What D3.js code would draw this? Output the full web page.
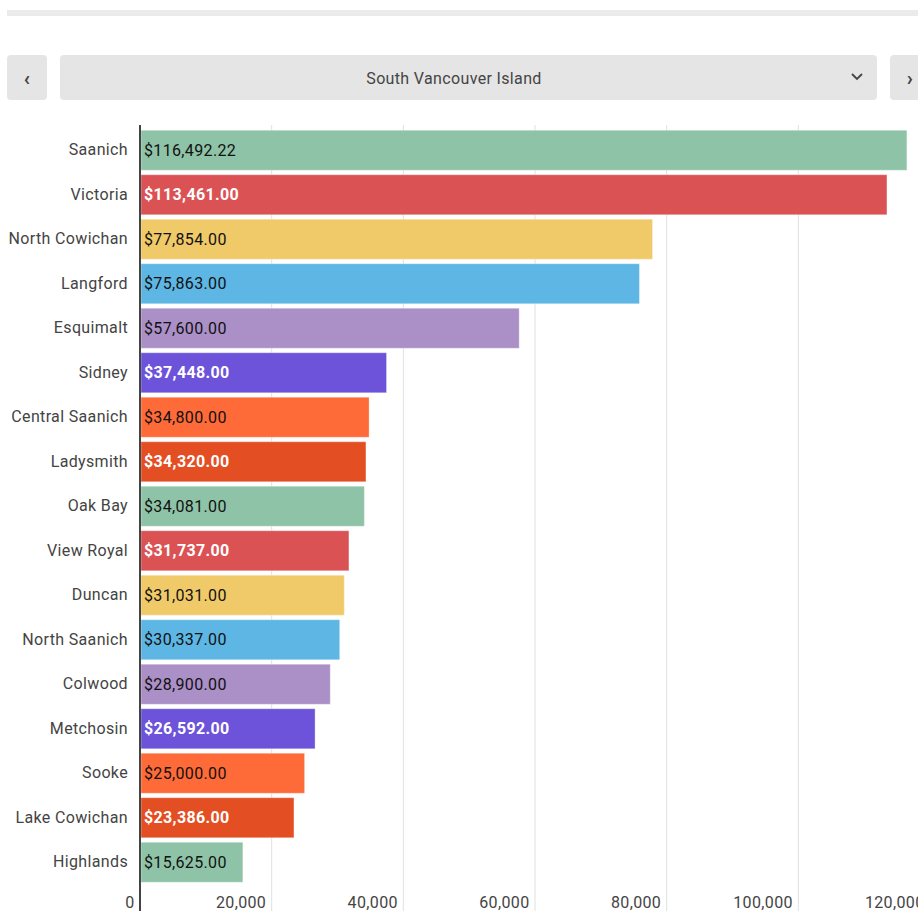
<!DOCTYPE html>
<html>
<head>
<meta charset="utf-8">
<script src="https://cdn.jsdelivr.net/npm/d3@7"></script>
<style>
  body { margin: 0; background: #fff; font-family: Roboto, "Noto Sans", sans-serif; }
  svg { display: block; }
  text { letter-spacing: 0.35px; }
</style>
</head>
<body>
<svg width="918" height="911"></svg>
<script>
// Municipios y valores
const municipios = ["Saanich", "Victoria", "North Cowichan", "Langford", "Esquimalt", "Sidney",
  "Central Saanich", "Ladysmith", "Oak Bay", "View Royal", "Duncan", "North Saanich",
  "Colwood", "Metchosin", "Sooke", "Lake Cowichan", "Highlands"];
const valores = [116492.22, 113461, 77854, 75863, 57600, 37448, 34800, 34320, 34081,
  31737, 31031, 30337, 28900, 26592, 25000, 23386, 15625];
const ticks = [0, 20000, 40000, 60000, 80000, 100000, 120000];
const region = "South Vancouver Island";

// Paleta que se repite cada 8 barras
const colores = ["#8fc3a7", "#db5254", "#f0c969", "#5db6e4", "#ab8fc7", "#6c53d9", "#fe6a38", "#e44e23"];
const textoBlanco = [false, true, false, false, false, true, false, true];

const datos = municipios.map((m, i) => ({ nombre: m, valor: valores[i], c: i % colores.length }));

const svg = d3.select("svg");

// Barra gris superior
svg.append("rect").attr("x", 7).attr("y", 10).attr("width", 911).attr("height", 6).attr("fill", "#ebebeb");

// Botones y selector
const controles = [
  { x: 7, w: 40, t: "‹", cx: 27 },
  { x: 60, w: 817, t: region, cx: 454 },
  { x: 890, w: 40, t: "›", cx: 910 }
];
svg.selectAll("rect.ctl")
  .data(controles)
  .join("rect")
  .attr("class", "ctl")
  .attr("x", d => d.x).attr("y", 55)
  .attr("width", d => d.w).attr("height", 45)
  .attr("rx", 4)
  .attr("fill", "#e5e5e5");
svg.selectAll("text.ctl")
  .data(controles)
  .join("text")
  .attr("class", "ctl")
  .attr("x", d => d.cx)
  .attr("y", 78)
  .attr("dy", "0.35em")
  .attr("text-anchor", "middle")
  .attr("fill", "#444")
  .attr("font-size", d => d.w > 100 ? 16 : 20)
  .attr("font-weight", d => d.w > 100 ? 400 : 700)
  .text(d => d.t);
// flecha del selector
svg.append("path")
  .attr("d", "M852,74 L857,79 L862,74")
  .attr("fill", "none").attr("stroke", "#444").attr("stroke-width", 1.8);

// Escalas
const x = d3.scaleLinear().domain([0, 120000]).range([140, 930]);
const y = d3.scaleBand().domain(municipios).range([128, 884.5]).paddingInner(0.1).paddingOuter(0.05);

// Rejilla
svg.selectAll("line.grid")
  .data(ticks.slice(1))
  .join("line")
  .attr("class", "grid")
  .attr("x1", d => x(d)).attr("x2", d => x(d))
  .attr("y1", 125).attr("y2", 911)
  .attr("stroke", "#e0e0e0").attr("stroke-width", 1);

// Barras
svg.selectAll("rect.bar")
  .data(datos)
  .join("rect")
  .attr("class", "bar")
  .attr("x", x(0) + 1)
  .attr("y", d => y(d.nombre))
  .attr("width", d => x(d.valor) - x(0) - 1)
  .attr("height", y.bandwidth())
  .attr("fill", d => colores[d.c])
  .attr("stroke", "rgba(255,255,255,0.35)")
  .attr("stroke-width", 1);

// Eje Y
const ejeY = svg.append("g")
  .attr("transform", `translate(${x(0)},0)`)
  .call(d3.axisLeft(y).tickSize(0).tickPadding(12));
ejeY.select(".domain").remove();
ejeY.selectAll("text")
  .attr("font-size", 16)
  .attr("font-family", "Roboto, sans-serif")
  .attr("fill", "#444");

svg.append("line")
  .attr("x1", x(0)).attr("x2", x(0))
  .attr("y1", 125).attr("y2", 911)
  .attr("stroke", "#444").attr("stroke-width", 2);

// Eje X
const ejeX = svg.append("g")
  .attr("transform", "translate(0,896)")
  .call(d3.axisBottom(x).tickValues(ticks).tickSize(0).tickFormat(d3.format(",")));
ejeX.select(".domain").remove();
ejeX.selectAll("text")
  .attr("text-anchor", "end")
  .attr("x", -6)
  .attr("y", 0)
  .attr("dy", "0.75em")
  .attr("font-size", 16)
  .attr("font-family", "Roboto, sans-serif")
  .attr("fill", "#444");

// Etiquetas de valor
const fmt = d3.format("$,.2f");
svg.selectAll("text.val")
  .data(datos)
  .join("text")
  .attr("class", "val")
  .attr("x", x(0) + 4)
  .attr("y", d => y(d.nombre) + y.bandwidth() / 2)
  .attr("dy", "0.35em")
  .attr("font-size", 16)
  .attr("fill", d => textoBlanco[d.c] ? "#fff" : "#111")
  .attr("font-weight", d => textoBlanco[d.c] ? 700 : 400)
  .text(d => fmt(d.valor));
</script>
</body>
</html>
